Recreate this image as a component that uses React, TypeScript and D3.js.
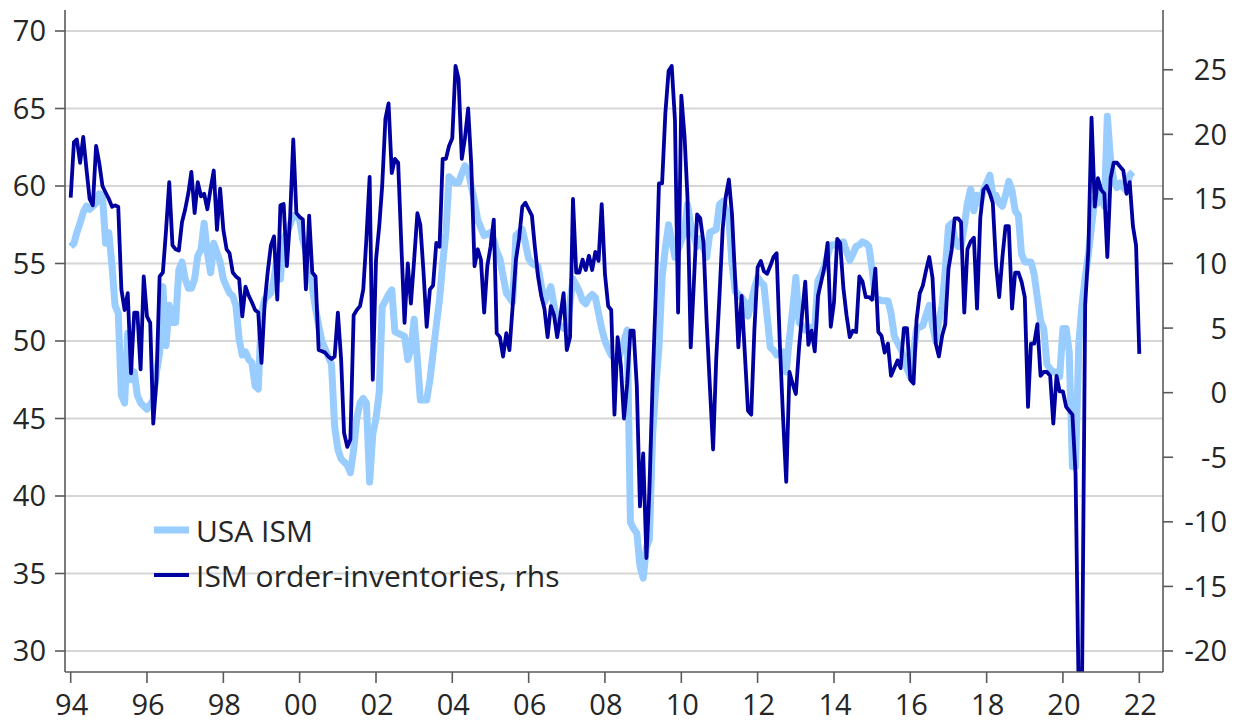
import React from "react";
import * as d3 from "d3";

// USA ISM manufacturing, monthly from Jan 1994 (left axis)
const ismValues = [
  56.1, 56.3, 57.0, 57.6, 58.3, 58.7, 58.5, 58.7, 58.9, 59.5, 59.4, 56.3,
  57.0, 54.8, 52.3, 51.8, 46.5, 46.0, 50.5, 47.5, 48.0, 46.5, 46.0, 45.8,
  45.6, 45.9, 46.2, 48.0, 49.2, 53.5, 49.7, 52.3, 51.2, 51.2, 54.6, 55.1,
  54.0, 53.4, 53.4, 54.0, 55.5, 55.9, 57.6, 55.7, 54.4, 56.3, 55.7, 55.1,
  54.0, 53.5, 53.1, 52.9, 52.3, 50.1, 49.1, 49.3, 48.8, 48.6, 47.1, 46.9,
  51.8, 52.7, 52.9, 53.1, 54.0, 55.5, 54.0, 56.6, 57.0, 57.5, 58.1, 58.1,
  57.8, 56.5, 55.8, 55.0, 53.5, 52.1, 51.0, 50.0, 49.5, 49.0, 48.5, 44.5,
  43.0, 42.4, 42.2, 42.0, 41.5, 43.0, 45.0, 46.0, 46.3, 46.0, 40.9, 44.0,
  45.0, 46.7, 52.2, 52.6, 53.0, 53.3, 50.6, 50.5, 50.4, 50.3, 48.8, 49.5,
  51.4, 48.8, 46.2, 46.2, 46.2, 47.5, 49.2, 51.0, 52.7, 55.0, 57.0, 60.6,
  60.4, 60.2, 60.2, 60.8, 61.3, 61.0, 60.0, 59.0, 57.8, 57.3, 56.8, 56.9,
  57.0, 56.5, 55.8, 55.3, 54.2, 53.1, 52.8, 52.5, 56.8, 57.0, 57.2, 56.3,
  55.3, 55.0, 54.9, 54.8, 53.6, 52.5, 53.0, 53.5, 52.3, 51.2, 51.0, 50.8,
  50.8, 52.5, 54.0, 53.6, 53.2, 52.6, 52.4, 52.8, 53.0, 52.8, 51.8, 50.8,
  50.0, 49.5, 49.1, 48.9, 48.7, 49.3, 50.0, 50.7, 38.3, 37.9, 37.6, 35.5,
  34.7, 36.7, 37.2, 43.9, 47.0, 49.6, 54.1, 56.0, 57.5, 56.5, 55.4, 55.9,
  56.5, 57.0, 58.8, 57.5, 56.8, 56.1, 56.6, 56.0, 55.4, 57.0, 57.1, 57.2,
  58.8, 59.0, 58.5, 57.9, 55.0, 53.2, 53.0, 52.8, 52.5, 51.6, 52.5, 53.4,
  54.1, 53.8, 53.6, 51.6, 49.6, 49.4, 49.1, 49.2, 49.3, 48.0, 50.2, 52.0,
  54.1, 51.2, 51.0, 50.7, 50.8, 50.9, 50.9, 53.9, 54.3, 54.8, 55.5, 56.2,
  56.2, 56.3, 56.3, 56.4, 55.8, 55.2, 55.6, 56.1, 56.2, 56.4, 56.3, 56.1,
  54.6, 52.8, 52.7, 52.6, 52.6, 52.6, 51.8, 50.3, 49.9, 49.5, 49.0, 48.2,
  47.7, 49.3, 50.8, 50.9, 51.0, 51.7, 52.3, 51.0, 50.0, 51.3, 52.3, 54.6,
  57.4, 57.6, 56.6, 56.1, 56.1, 57.4, 58.9, 59.8, 58.4, 59.4, 58.9, 59.7,
  60.2, 60.7, 59.4, 59.4, 58.9, 58.7, 59.4, 60.3, 59.7, 58.4, 58.1, 55.6,
  55.1, 55.1, 55.1, 54.3, 52.8, 51.3, 50.8, 48.5, 48.2, 48.0, 48.0, 47.7,
  50.8, 50.8, 49.3, 41.9, 41.9, 49.8, 52.3, 54.1, 55.6, 57.4, 59.2, 58.9,
  59.9, 58.7, 64.5, 61.7, 60.4, 59.9, 60.2, 59.9, 59.7, 60.7, 60.9,
];

// ISM new orders minus inventories, monthly from Jan 1994 (right axis)
const ordInvValues = [
  15.1, 19.4, 19.6, 17.8, 19.8, 17.3, 15.0, 14.5, 19.1, 17.8, 16.0, 15.5,
  15.0, 14.4, 14.5, 14.4, 8.0, 6.4, 7.7, 1.5, 6.2, 6.2, 1.8, 9.0,
  5.9, 5.4, -2.4, 1.0, 9.0, 9.3, 12.5, 16.3, 11.4, 11.1, 11.0, 13.2,
  14.2, 15.5, 17.1, 13.9, 16.3, 15.2, 15.4, 14.2, 15.8, 17.2, 12.6, 15.8,
  12.6, 11.1, 10.8, 9.3, 9.0, 8.8, 5.9, 8.2, 7.5, 7.0, 6.4, 6.2,
  2.3, 7.0, 9.3, 11.4, 12.1, 7.2, 14.5, 14.6, 9.8, 13.4, 19.6, 13.9,
  13.6, 13.4, 8.0, 13.7, 9.3, 9.0, 3.3, 3.2, 3.1, 2.8, 2.6, 2.8,
  6.2, 2.6, -3.1, -4.2, -3.6, 6.0, 6.4, 6.7, 8.0, 11.9, 16.7, 1.0,
  10.3, 12.9, 16.0, 21.2, 22.4, 17.0, 18.1, 17.8, 11.3, 5.4, 10.0, 6.9,
  10.3, 13.9, 13.0, 9.3, 5.1, 8.0, 8.3, 11.6, 11.3, 18.1, 18.1, 19.1,
  19.7, 25.3, 24.3, 18.1, 19.7, 22.0, 17.6, 9.8, 11.1, 10.3, 6.2, 9.8,
  11.3, 13.4, 4.6, 4.3, 2.8, 4.6, 3.3, 6.7, 10.3, 11.9, 14.4, 14.7,
  14.2, 13.7, 11.3, 9.0, 7.5, 6.5, 4.3, 6.7, 6.0, 4.3, 6.0, 7.7,
  3.3, 4.3, 15.0, 9.3, 9.3, 10.3, 9.5, 10.6, 9.5, 10.9, 10.2, 14.6,
  9.2, 6.7, 6.4, -1.7, 4.3, 2.1, -2.0, 0.7, 4.8, 4.8, 0.5, -8.8,
  -4.7, -12.8, -7.7, 0.7, 7.5, 16.2, 16.2, 21.6, 24.9, 25.3, 21.1, 6.2,
  23.0, 19.8, 15.1, 3.5, 8.5, 13.8, 13.5, 11.6, 5.4, 0.5, -4.4, 2.6,
  7.5, 12.7, 15.1, 16.5, 13.8, 8.6, 3.5, 7.5, 3.0, -1.4, -1.7, 4.8,
  9.7, 10.2, 9.4, 9.2, 9.8, 10.5, 10.8, 3.7, -2.0, -6.9, 1.6, 0.7,
  -0.1, 3.5, 6.0, 8.6, 3.7, 4.8, 3.2, 7.5, 8.6, 9.7, 11.6, 5.1,
  7.0, 11.9, 11.6, 8.1, 6.0, 4.3, 4.8, 4.7, 9.0, 8.6, 7.4, 7.4,
  7.2, 9.6, 4.7, 4.4, 3.1, 3.8, 1.3, 1.9, 2.5, 1.9, 5.0, 5.0,
  1.0, 0.7, 5.6, 7.7, 8.3, 9.5, 10.5, 8.9, 3.8, 2.8, 4.4, 5.3,
  9.6, 11.1, 13.5, 13.5, 13.2, 6.2, 11.1, 11.7, 12.0, 6.5, 13.5, 15.7,
  16.0, 15.4, 14.7, 9.9, 7.4, 10.5, 12.9, 12.9, 6.5, 9.3, 9.3, 8.6,
  7.4, -1.1, 3.8, 3.8, 5.3, 1.3, 1.6, 1.6, 1.3, -2.4, 1.3, 0.1,
  0.1, -1.1, -1.4, -1.7, -6.3, -24.0, -23.5, 6.8, 11.1, 21.3, 14.4, 16.6,
  15.7, 15.4, 10.5, 16.6, 17.8, 17.8, 17.5, 17.2, 15.4, 16.3, 12.9, 11.4,
  3.0,
];

const leftTicks = [30, 35, 40, 45, 50, 55, 60, 65, 70];
const rightTicks = [-20, -15, -10, -5, 0, 5, 10, 15, 20, 25];
const yearTicks = [1994, 1996, 1998, 2000, 2002, 2004, 2006, 2008, 2010, 2012, 2014, 2016, 2018, 2020, 2022];
const yearLabels = ["94", "96", "98", "00", "02", "04", "06", "08", "10", "12", "14", "16", "18", "20", "22"];
const seriesNames = ["USA ISM", "ISM order-inventories, rhs"];

const W = 1241;
const H = 724;
const left = 65;
const right = 1163;
const top = 10;
const bottom = 672;
const font = "'Open Sans', 'Noto Sans', sans-serif";
const lightBlue = "#99ccff";
const darkBlue = "#0000a0";
const axisColor = "#5a5a5a";
const textColor = "#262626";

function monthDate(i: number) {
  return new Date(1994, i, 1);
}

export default function App() {
  const x = d3
    .scaleTime()
    .domain([new Date(1994, 0, 1), new Date(2022, 0, 1)])
    .range([70.7, 1139.3]);
  const yLeft = d3.scaleLinear().domain([30, 70]).range([651, 31]);
  const yRight = d3.scaleLinear().domain([-20, 25]).range([651, 69.75]);

  const ismLine = d3
    .line<number>()
    .x((d, i) => x(monthDate(i)))
    .y((d) => yLeft(d));
  const ordLine = d3
    .line<number>()
    .x((d, i) => x(monthDate(i)))
    .y((d) => yRight(d));

  return (
    <div style={{ position: "absolute", left: 0, top: 0 }}>
      <svg width={W} height={H} style={{ display: "block", background: "#fff" }}>
        <defs>
          <clipPath id="plotClip">
            <rect x={left} y={top} width={right - left} height={bottom - top} />
          </clipPath>
        </defs>

        {/* gridlines */}
        {leftTicks.map((t) => (
          <line key={"g" + t} x1={left} x2={right} y1={yLeft(t)} y2={yLeft(t)} stroke="#d6d6d6" strokeWidth={1.8} />
        ))}

        {/* series */}
        <g clipPath="url(#plotClip)">
          <path d={ismLine(ismValues) || ""} fill="none" stroke={lightBlue} strokeWidth={7} strokeLinejoin="round" />
          <path d={ordLine(ordInvValues) || ""} fill="none" stroke={darkBlue} strokeWidth={3.8} strokeLinejoin="round" />
        </g>

        {/* axes */}
        <line x1={left} x2={left} y1={top} y2={bottom} stroke={axisColor} strokeWidth={1.6} />
        <line x1={right} x2={right} y1={top} y2={bottom} stroke={axisColor} strokeWidth={1.6} />
        <line x1={left} x2={right} y1={bottom} y2={bottom} stroke={axisColor} strokeWidth={1.6} />

        {leftTicks.map((t) => (
          <g key={"l" + t}>
            <line x1={55} x2={left} y1={yLeft(t)} y2={yLeft(t)} stroke={axisColor} strokeWidth={1.6} />
            <text x={46} y={yLeft(t)} dy="0.36em" textAnchor="end" fontFamily={font} fontSize={29} fill={textColor}>
              {String(t)}
            </text>
          </g>
        ))}

        {rightTicks.map((t) => (
          <g key={"r" + t}>
            <line x1={right} x2={right + 10} y1={yRight(t)} y2={yRight(t)} stroke={axisColor} strokeWidth={1.6} />
            <text x={1227} y={yRight(t)} dy="0.36em" textAnchor="end" fontFamily={font} fontSize={29} fill={textColor}>
              {String(t)}
            </text>
          </g>
        ))}

        {yearTicks.map((yr, i) => {
          const px = x(new Date(yr, 0, 1));
          return (
            <g key={"x" + yr}>
              <line x1={px} x2={px} y1={bottom} y2={bottom + 11} stroke={axisColor} strokeWidth={1.6} />
              <text x={px + 1} y={715} textAnchor="middle" fontFamily={font} fontSize={29} fill={textColor}>
                {yearLabels[i]}
              </text>
            </g>
          );
        })}

        {/* legend */}
        <line x1={154} x2={189} y1={530} y2={530} stroke={lightBlue} strokeWidth={7} />
        <text x={196} y={541.5} fontFamily={font} fontSize={30} fill={textColor}>
          {seriesNames[0]}
        </text>
        <line x1={154} x2={189} y1={575} y2={575} stroke={darkBlue} strokeWidth={4} />
        <text x={196} y={587} fontFamily={font} fontSize={30} fill={textColor}>
          {seriesNames[1]}
        </text>
      </svg>
    </div>
  );
}
